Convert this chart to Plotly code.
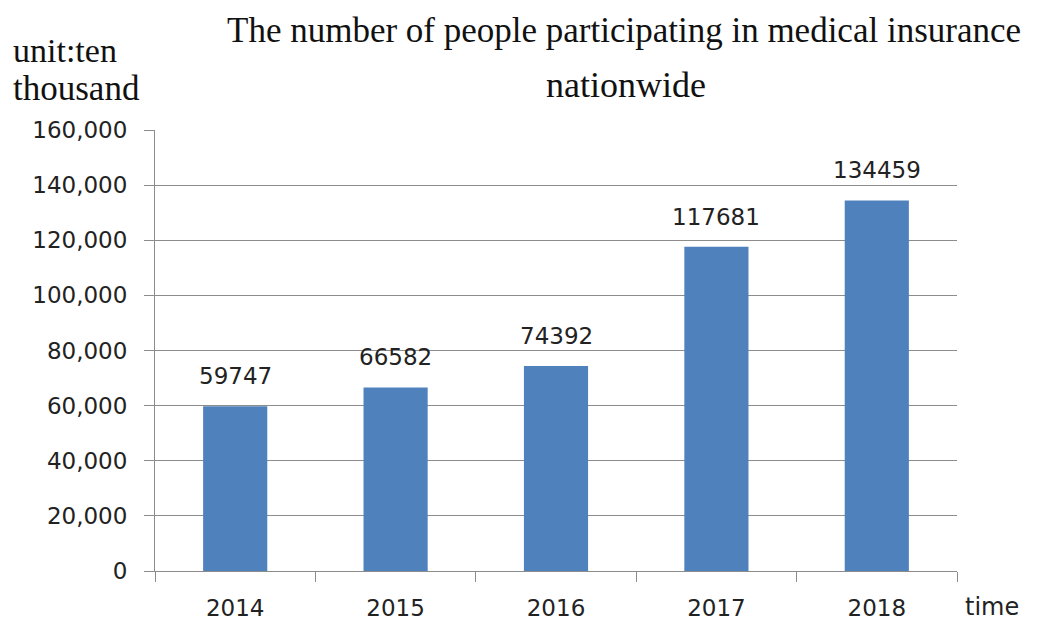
import plotly.graph_objects as go

years = ["2014", "2015", "2016", "2017", "2018"]
values = [59747, 66582, 74392, 117681, 134459]
y_ticks = [0, 20000, 40000, 60000, 80000, 100000, 120000, 140000, 160000]

BAR = "#4F81BD"
GRID = "#8C8C8C"
SANS = "DejaVu Sans"
SERIF = "Liberation Serif"
TXT = "#222222"

fig = go.Figure()
fig.add_trace(go.Bar(x=years, y=values, width=0.4, marker=dict(color=BAR, line=dict(width=0)),
                     hoverinfo="skip"))

for i, v in enumerate(values):
    fig.add_annotation(x=i, y=v, text=str(v), showarrow=False, yanchor="bottom",
                       yshift=15, font=dict(family=SANS, size=23, color=TXT))

fig.add_annotation(xref="paper", yref="paper", x=0.585, y=1, yshift=100, yanchor="middle",
                   text="The number of people participating in medical insurance",
                   showarrow=False, font=dict(family=SERIF, size=35, color="#111111"))
fig.add_annotation(xref="paper", yref="paper", x=0.587, y=1, yshift=45, yanchor="middle",
                   text="nationwide", showarrow=False,
                   font=dict(family=SERIF, size=36, color="#111111"))
fig.add_annotation(xref="paper", yref="paper", x=-0.18, xanchor="left", y=1, yshift=80,
                   yanchor="middle", text="unit:ten", showarrow=False, align="left",
                   font=dict(family=SERIF, size=34, color="#111111"))
fig.add_annotation(xref="paper", yref="paper", x=-0.18, xanchor="left", y=1, yshift=42,
                   yanchor="middle", text="thousand", showarrow=False, align="left",
                   font=dict(family=SERIF, size=35, color="#111111"))
fig.add_annotation(xref="paper", yref="paper", x=1.008, xanchor="left", y=0, yshift=-36,
                   yanchor="middle", text="time", showarrow=False,
                   font=dict(family=SANS, size=24, color=TXT))

fig.update_layout(
    width=1037, height=621,
    margin=dict(l=147, r=88, t=122, b=58),
    paper_bgcolor="white", plot_bgcolor="white",
    showlegend=False, bargap=0.6,
    xaxis=dict(type="category", tickson="boundaries", ticks="outside", ticklen=10,
               tickcolor=GRID, showline=True, linecolor=GRID, linewidth=1,
               showgrid=False, tickfont=dict(family=SANS, size=23, color=TXT),
               ticklabelstandoff=16, range=[-0.5, 4.5], automargin=False),
    yaxis=dict(range=[0, 160000], tickvals=y_ticks, tickformat=",", ticks="outside",
               ticklen=10, tickcolor=GRID, showline=True, linecolor=GRID, linewidth=1,
               showgrid=True, gridcolor=GRID, gridwidth=1, zeroline=False,
               ticklabelstandoff=12, automargin=False,
               tickfont=dict(family=SANS, size=23, color=TXT)),
)

fig.write_html("out.html")
